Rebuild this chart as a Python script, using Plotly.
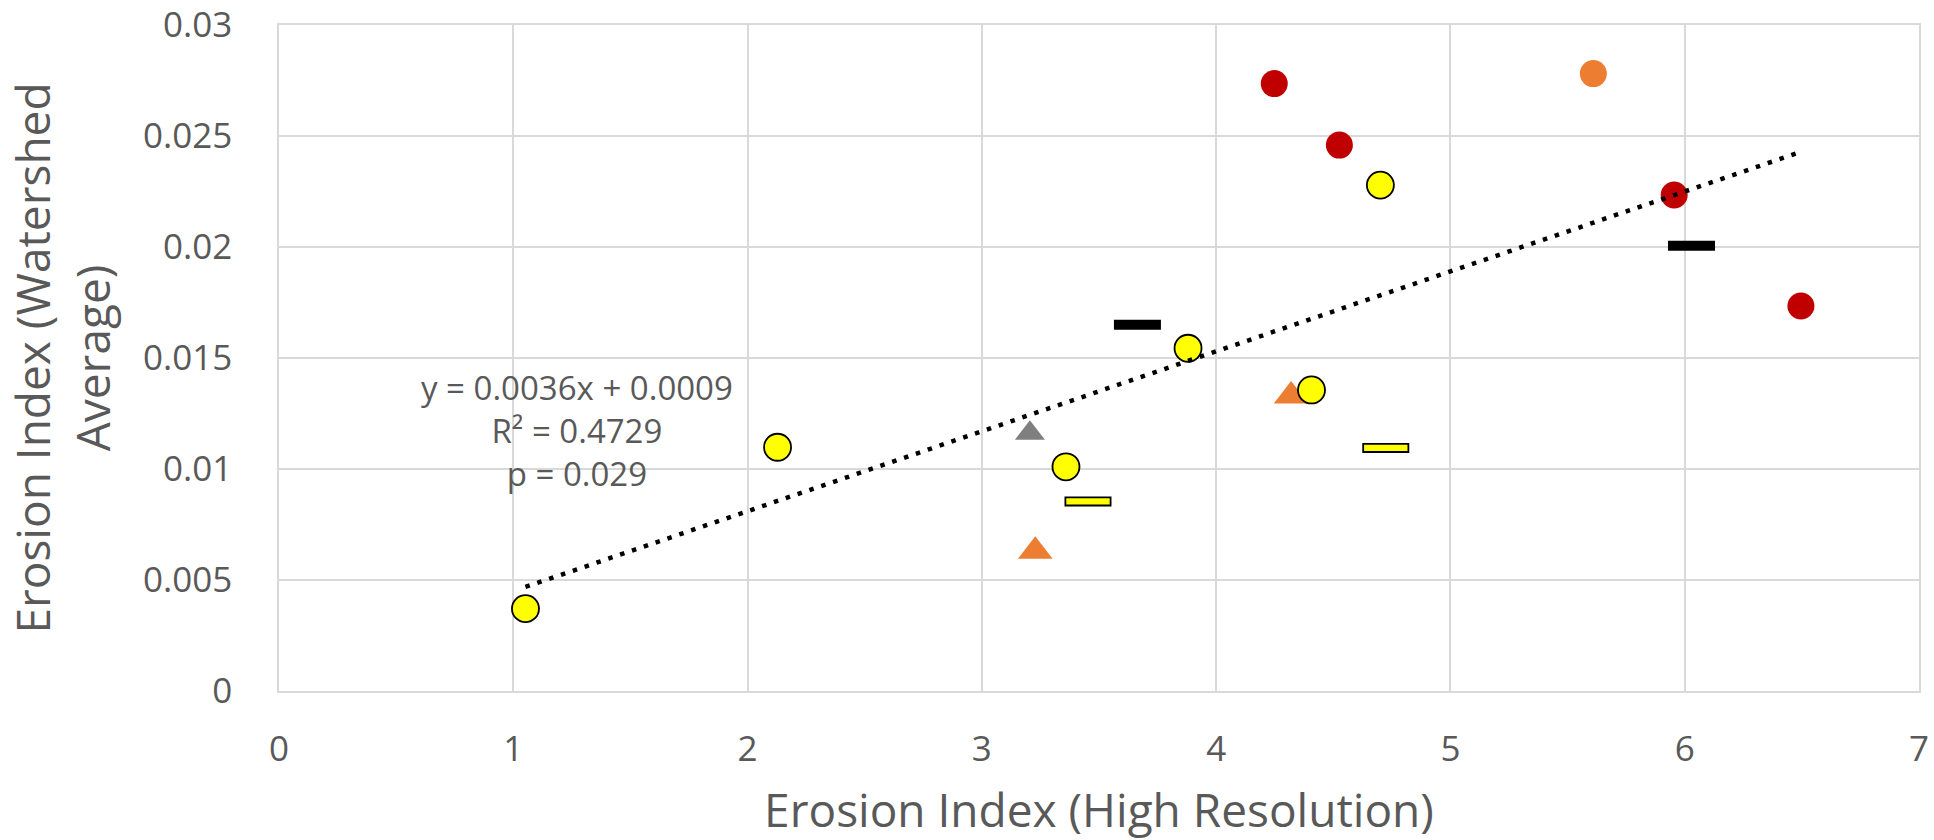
import plotly.graph_objects as go

# ---- data ----
yellow_circle_x = [1.052, 2.128, 3.359, 3.880, 4.407, 4.701]
yellow_circle_y = [0.00371, 0.01098, 0.01010, 0.01544, 0.01356, 0.02279]

red_circle_x = [4.248, 4.526, 5.955, 6.496]
red_circle_y = [0.02736, 0.02459, 0.02234, 0.01734]

orange_circle_x = [5.610]
orange_circle_y = [0.02781]

gray_triangle_x = [3.205]
gray_triangle_y = [0.01161]

orange_triangle_x = [3.228, 4.320]
orange_triangle_y = [0.00630, 0.01329]

black_dash_x = [3.664, 6.029]
black_dash_y = [0.01650, 0.02006]

yellow_dash_x = [3.453, 4.724]
yellow_dash_y = [0.00854, 0.01095]

trend_slope = 0.0036
trend_intercept = 0.0009
trend_label = "y = 0.0036x + 0.0009<br>R² = 0.4729<br>p = 0.029"

x_ticks = [0, 1, 2, 3, 4, 5, 6, 7]
y_ticks = [0, 0.005, 0.01, 0.015, 0.02, 0.025, 0.03]
y_tick_text = ["0", "0.005", "0.01", "0.015", "0.02", "0.025", "0.03"]

x_title = "Erosion Index (High Resolution)"
y_title = "Erosion Index (Watershed<br>Average)"

# ---- styling ----
FONT = "Open Sans, Liberation Sans, sans-serif"
TEXT = "#595959"
GRID = "#D9D9D9"
LINE_EW = 1.4  # plotly line-ew half-length factor (length = 1.4 * size)

all_x = (yellow_circle_x + red_circle_x + orange_circle_x + gray_triangle_x
         + orange_triangle_x + black_dash_x + yellow_dash_x)
trend_x = [min(all_x), max(all_x) - 0.015]
trend_y = [trend_slope * v + trend_intercept for v in trend_x]

fig = go.Figure()

fig.add_trace(go.Scatter(x=red_circle_x, y=red_circle_y, mode="markers",
                         marker=dict(symbol="circle", size=27, color="#C00000",
                                     line=dict(width=0))))
fig.add_trace(go.Scatter(x=orange_circle_x, y=orange_circle_y, mode="markers",
                         marker=dict(symbol="circle", size=27, color="#ED7D31",
                                     line=dict(width=0))))
fig.add_trace(go.Scatter(x=gray_triangle_x, y=gray_triangle_y, mode="markers",
                         marker=dict(symbol="triangle-up", size=26, color="#7F7F7F",
                                     line=dict(width=0))))
fig.add_trace(go.Scatter(x=orange_triangle_x, y=orange_triangle_y, mode="markers",
                         marker=dict(symbol="triangle-up", size=30, color="#ED7D31",
                                     line=dict(width=0))))
fig.add_trace(go.Scatter(x=black_dash_x, y=black_dash_y, mode="markers",
                         marker=dict(symbol="line-ew", size=47 / LINE_EW, color="#000000",
                                     line=dict(width=10, color="#000000"))))
# yellow dashes: black outline + yellow fill
fig.add_trace(go.Scatter(x=yellow_dash_x, y=yellow_dash_y, mode="markers",
                         marker=dict(symbol="line-ew", size=47 / LINE_EW, color="#000000",
                                     line=dict(width=10, color="#000000"))))
fig.add_trace(go.Scatter(x=yellow_dash_x, y=yellow_dash_y, mode="markers",
                         marker=dict(symbol="line-ew", size=43.4 / LINE_EW, color="#FFFF00",
                                     line=dict(width=6.4, color="#FFFF00"))))
fig.add_trace(go.Scatter(x=yellow_circle_x, y=yellow_circle_y, mode="markers",
                         marker=dict(symbol="circle", size=27, color="#FFFF00",
                                     line=dict(width=1.8, color="#000000"))))
# trendline
fig.add_trace(go.Scatter(x=trend_x, y=trend_y, mode="lines",
                         line=dict(color="#000000", width=4.5, dash="4.5px,8px")))

fig.add_annotation(x=1.272, y=0.01175, xref="x", yref="y", text=trend_label,
                   showarrow=False, align="center",
                   font=dict(family=FONT, size=33, color=TEXT))

fig.update_layout(
    width=1934, height=840,
    margin=dict(l=279, r=15, t=25, b=149, autoexpand=False),
    paper_bgcolor="white", plot_bgcolor="white",
    showlegend=False,
    font=dict(family=FONT, color=TEXT),
)
fig.update_xaxes(range=[0, 7], tickvals=x_ticks, ticks="", ticklabelstandoff=26,
                 tickfont=dict(family=FONT, size=35, color=TEXT),
                 showgrid=True, gridcolor=GRID, gridwidth=1.5, zeroline=False,
                 showline=True, linecolor=GRID, linewidth=1.5, mirror=True,
                 title=dict(text=x_title, standoff=36,
                            font=dict(family=FONT, size=46, color=TEXT)))
fig.update_yaxes(range=[0, 0.03], tickvals=y_ticks, ticktext=y_tick_text, ticks="",
                 ticklabelstandoff=38,
                 tickfont=dict(family=FONT, size=35, color=TEXT),
                 showgrid=True, gridcolor=GRID, gridwidth=1.5, zeroline=False,
                 showline=True, linecolor=GRID, linewidth=1.5, mirror=True,
                 title=dict(text=y_title, standoff=18,
                            font=dict(family=FONT, size=46, color=TEXT)))

fig.write_html("out.html", config={"displayModeBar": False},
               post_script="document.body.style.margin='0';document.body.style.overflow='hidden';")
